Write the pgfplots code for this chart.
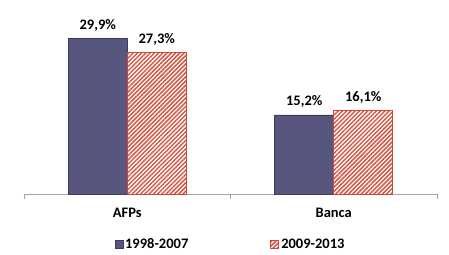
\documentclass[border=0pt]{standalone}
\usepackage{fontspec}
\setmainfont{Carlito}
\usepackage{pgfplots}
\pgfplotsset{compat=1.18}
\usetikzlibrary{patterns.meta}
\definecolor{barblue}{RGB}{86,86,126}
\definecolor{barblueedge}{RGB}{60,60,95}
\definecolor{barred}{RGB}{200,75,58}
\definecolor{hatchred}{RGB}{210,90,72}
\definecolor{axgray}{RGB}{165,165,165}
\begin{document}
\begin{tikzpicture}
\useasboundingbox (-24pt,-60pt) rectangle (425pt,194pt);
\begin{axis}[
  scale only axis,
  width=413pt, height=194pt,
  xmin=-0.5, xmax=1.5, ymin=0, ymax=37.3,
  ybar=0pt, bar width=59pt,
  axis x line*=bottom, axis y line=none,
  x axis line style={draw=axgray, line width=0.8pt},
  xtick={0,1}, xticklabels={AFPs,Banca},
  major tick length=0pt,
  xticklabel style={anchor=base, yshift=-23pt, inner sep=0pt, font=\fontsize{14.5}{16}\selectfont\bfseries},
  extra x ticks={-0.5,0.5,1.5}, extra x tick labels={},
  extra x tick style={major tick length=5pt, tick align=outside, tick style={draw=axgray, line width=0.8pt}},
  ytick=\empty,
  /pgf/number format/assume math mode=true,
  nodes near coords={\pgfmathprintnumber[fixed, fixed zerofill, precision=1, use comma]{\pgfplotspointmeta}\%},
  every node near coord/.append style={anchor=base, yshift=9pt, inner sep=0pt, font=\fontsize{14.5}{16}\selectfont\bfseries, text=black},
  legend columns=2,
  legend style={at={(0.5,0)}, anchor=center, yshift=-50pt, draw=none, fill=none,
    font=\fontsize{14.5}{16}\selectfont\bfseries,
    /tikz/every even column/.append style={column sep=80pt},
    /tikz/every odd column/.append style={inner xsep=1pt}},
  legend image code/.code={\draw[#1] (0pt,-4pt) rectangle (8pt,4pt);},
  clip=false,
]
\addplot[fill=barblue, draw=barblueedge, line width=0.6pt] coordinates {(0,29.9) (1,15.2)};
\addplot[draw=barred, line width=0.9pt, pattern={Lines[angle=45, distance=3pt, line width=1.5pt]}, pattern color=hatchred] coordinates {(0,27.3) (1,16.1)};
\legend{1998-2007, 2009-2013}
\end{axis}
\end{tikzpicture}
\end{document}
